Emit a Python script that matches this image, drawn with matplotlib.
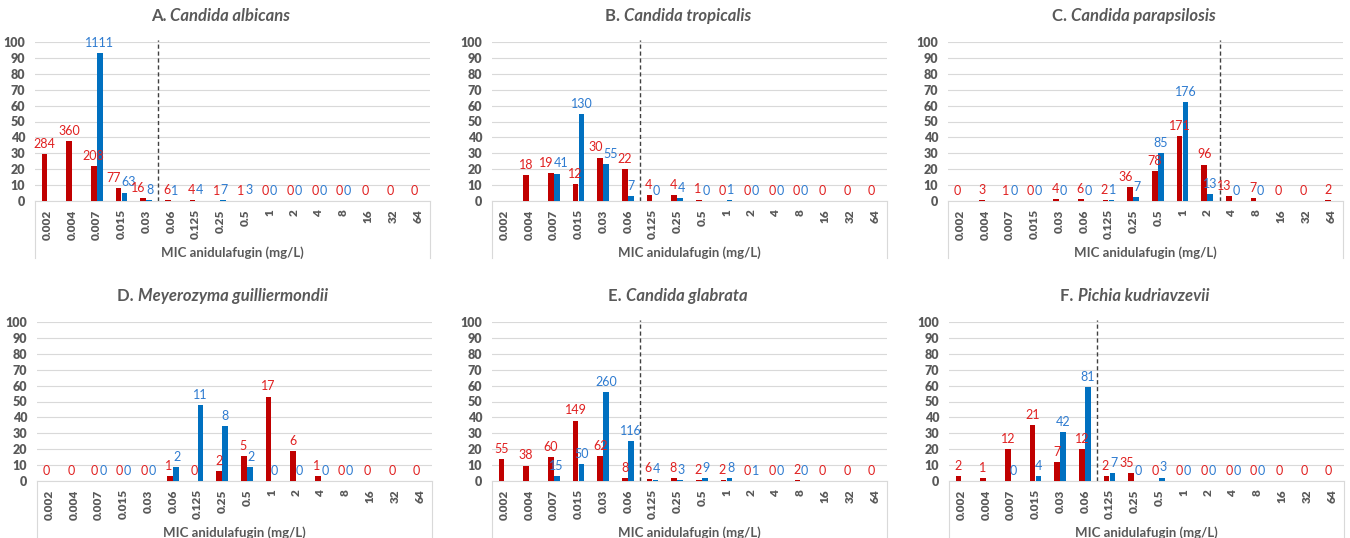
import numpy as np
import matplotlib
matplotlib.use('Agg')
import matplotlib.pyplot as plt

plt.rcParams['font.family'] = ['Lato', 'DejaVu Sans']

nan = np.nan
cats = ['0.002', '0.004', '0.007', '0.015', '0.03', '0.06', '0.125', '0.25',
        '0.5', '1', '2', '4', '8', '16', '32', '64']

# A. Candida albicans
a_red = [29.7, 37.6, 21.7, 8.0, 1.7, 0.6, 0.4, 0.1, 0.1, 0, 0, 0, 0, 0, 0, 0]
a_red_n = [284, 360, 208, 77, 16, 6, 4, 1, 1, 0, 0, 0, 0, 0, 0, 0]
a_blue = [nan, nan, 92.8, 5.3, 0.7, 0.1, 0.3, 0.6, 0.3, 0, 0, 0, 0, nan, nan, nan]
a_blue_n = [None, None, 1111, 63, 8, 1, 4, 7, 3, 0, 0, 0, 0, None, None, None]

# B. Candida tropicalis
b_red = [nan, 16.4, 17.3, 10.9, 27.3, 20.0, 3.6, 3.6, 0.9, 0, 0, 0, 0, 0, 0, 0]
b_red_n = [None, 18, 19, 12, 30, 22, 4, 4, 1, 0, 0, 0, 0, 0, 0, 0]
b_blue = [nan, nan, 17.2, 54.6, 23.1, 2.9, 0, 1.7, 0, 0.4, 0, 0, 0, nan, nan, nan]
b_blue_n = [None, None, 41, 130, 55, 7, 0, 4, 0, 1, 0, 0, 0, None, None, None]

# C. Candida parapsilosis
c_red = [0, 0.7, 0.2, 0, 1.0, 1.4, 0.5, 8.6, 18.6, 40.8, 22.9, 3.1, 1.7, 0, 0, 0.5]
c_red_n = [0, 3, 1, 0, 4, 6, 2, 36, 78, 171, 96, 13, 7, 0, 0, 2]
c_blue = [nan, nan, 0, 0, 0, 0, 0.4, 2.5, 30.1, 62.4, 4.6, 0, 0, nan, nan, nan]
c_blue_n = [None, None, 0, 0, 0, 0, 1, 7, 85, 176, 13, 0, 0, None, None, None]

# D. Meyerozyma guilliermondii
d_red = [0, 0, 0, 0, 0, 3.1, 0, 6.3, 15.6, 53.1, 18.8, 3.1, 0, 0, 0, 0]
d_red_n = [0, 0, 0, 0, 0, 1, 0, 2, 5, 17, 6, 1, 0, 0, 0, 0]
d_blue = [nan, nan, 0, 0, 0, 8.7, 47.8, 34.8, 8.7, 0, 0, 0, 0, nan, nan, nan]
d_blue_n = [None, None, 0, 0, 0, 2, 11, 8, 2, 0, 0, 0, 0, None, None, None]

# E. Candida glabrata
e_red = [14.0, 9.7, 15.3, 38.0, 15.8, 2.0, 1.5, 2.0, 0.5, 0.5, 0, 0, 0.5, 0, 0, 0]
e_red_n = [55, 38, 60, 149, 62, 8, 6, 8, 2, 2, 0, 0, 2, 0, 0, 0]
e_blue = [nan, nan, 3.2, 10.7, 55.8, 24.9, 0.9, 0.6, 1.9, 1.7, 0.2, 0, 0, nan, nan, nan]
e_blue_n = [None, None, 15, 50, 260, 116, 4, 3, 9, 8, 1, 0, 0, None, None, None]

# F. Pichia kudriavzevii
f_red = [3.3, 1.7, 20.0, 35.0, 11.7, 20.0, 3.3, 5.0, 0, 0, 0, 0, 0, 0, 0, 0]
f_red_n = [2, 1, 12, 21, 7, 12, 2, 35, 0, 0, 0, 0, 0, 0, 0, 0]
f_blue = [nan, nan, 0, 2.9, 30.7, 59.1, 5.1, 0, 2.2, 0, 0, 0, 0, nan, nan, nan]
f_blue_n = [None, None, 0, 4, 42, 81, 7, 0, 3, 0, 0, 0, 0, None, None, None]

GRAY = '#595959'
RED = '#C00000'
BLUE = '#0070C0'
RED_TXT = '#E02020'
BLUE_TXT = '#2E7BD0'


def panel(ax, letter, species, red, red_n, blue, blue_n, cut):
    x = np.arange(len(cats))
    w = 0.23
    ax.bar(x - 0.12, red, w, color=RED, zorder=3)
    ax.bar(x + 0.12, blue, w, color=BLUE, zorder=3)
    for i in range(len(cats)):
        # labels side by side when both sit at about the same height
        both = red_n[i] is not None and blue_n[i] is not None \
            and abs(red[i] - blue[i]) < 8
        if red_n[i] is not None:
            if both:
                ax.annotate(str(red_n[i]), (x[i], red[i]), xytext=(-0.3, 3),
                            textcoords='offset points', ha='right', va='bottom',
                            color=RED_TXT, fontsize=9, zorder=4)
            else:
                ax.annotate(str(red_n[i]), (x[i] - 0.12, red[i]), xytext=(0, 3),
                            textcoords='offset points', ha='center', va='bottom',
                            color=RED_TXT, fontsize=9, zorder=4)
        if blue_n[i] is not None:
            if both:
                ax.annotate(str(blue_n[i]), (x[i], blue[i]), xytext=(0.3, 3),
                            textcoords='offset points', ha='left', va='bottom',
                            color=BLUE_TXT, fontsize=9, zorder=4)
            else:
                ax.annotate(str(blue_n[i]), (x[i] + 0.12, blue[i]), xytext=(0, 3),
                            textcoords='offset points', ha='center', va='bottom',
                            color=BLUE_TXT, fontsize=9, zorder=4)
    if cut is not None:
        ax.axvline(cut, ymin=0, ymax=1.01, color='#404040', lw=1,
                   ls=(0, (3, 2)), zorder=2, clip_on=False)

    ax.set_xlim(-0.5, len(cats) - 0.5)
    ax.set_ylim(0, 100)
    yt = list(range(0, 101, 10))
    ax.set_yticks(yt)
    ax.set_yticklabels([str(v) for v in yt], fontweight='heavy')
    ax.set_xticks(x)
    ax.set_xticklabels(cats, rotation=90, fontweight='heavy')
    ax.tick_params(axis='y', length=0, pad=7, labelsize=9, labelcolor=GRAY)
    ax.tick_params(axis='x', length=0, pad=6, labelsize=8.5, labelcolor=GRAY)
    ax.grid(axis='y', color='#D9D9D9', lw=0.8, zorder=0)
    for s in ['left', 'right', 'top']:
        ax.spines[s].set_visible(False)
    ax.spines['bottom'].set_color('#D9D9D9')

    # category axis box lines
    for xx in [0, 1]:
        ax.plot([xx, xx], [0, -0.36], transform=ax.transAxes, color='#D9D9D9',
                lw=0.8, clip_on=False)
    ax.text(0.5, -0.325, 'MIC anidulafugin (mg/L)', transform=ax.transAxes,
            ha='center', va='center', fontsize=9.5, fontweight='bold', color=GRAY)

    # title: letter normal bold, species bold italic
    t1 = ax.text(0, 0, letter + ' ', fontsize=12, fontweight='bold', color=GRAY)
    t2 = ax.text(0, 0, species, fontsize=12, fontweight='bold', style='italic',
                 color=GRAY)
    r = fig.canvas.get_renderer()
    w1 = t1.get_window_extent(r).width
    w2 = t2.get_window_extent(r).width
    bb = ax.get_window_extent(r)
    cx = bb.x0 + bb.width * 0.47
    ty = bb.y1 + 26
    inv = fig.transFigure.inverted()
    p1 = inv.transform((cx - (w1 + w2) / 2, ty))
    p2 = inv.transform((cx - (w1 + w2) / 2 + w1, ty))
    t1.remove()
    t2.remove()
    fig.text(p1[0], p1[1], letter + ' ', fontsize=12, fontweight='bold',
             color=GRAY, va='center')
    fig.text(p2[0], p2[1], species, fontsize=12, fontweight='bold',
             style='italic', color=GRAY, va='center')


fig = plt.figure(figsize=(13.5, 5.38), dpi=100)
W, H = 1350, 538
pos = [(35, 42, 'A.', 'Candida albicans', a_red, a_red_n, a_blue, a_blue_n, 4.5),
       (492, 42, 'B.', 'Candida tropicalis', b_red, b_red_n, b_blue, b_blue_n, 5.5),
       (948, 42, 'C.', 'Candida parapsilosis', c_red, c_red_n, c_blue, c_blue_n, 10.5),
       (37, 322, 'D.', 'Meyerozyma guilliermondii', d_red, d_red_n, d_blue, d_blue_n, None),
       (492, 322, 'E.', 'Candida glabrata', e_red, e_red_n, e_blue, e_blue_n, 5.5),
       (949, 322, 'F.', 'Pichia kudriavzevii', f_red, f_red_n, f_blue, f_blue_n, 5.5)]
for left, top, letter, sp, r, rn, b, bn, cut in pos:
    ax = fig.add_axes([left / W, 1 - (top + 159) / H, 395 / W, 159 / H])
    panel(ax, letter, sp, r, rn, b, bn, cut)

fig.savefig('out.png', dpi=100)
